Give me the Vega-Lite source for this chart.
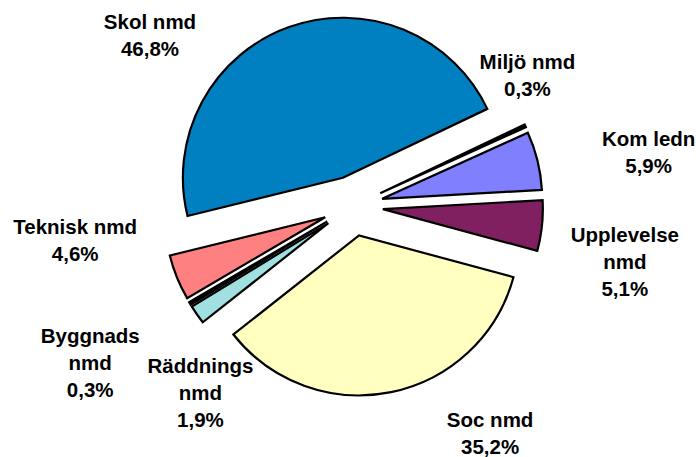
{
  "$schema": "https://vega.github.io/schema/vega-lite/v6.json",
  "width": 686,
  "height": 412,
  "padding": {"left": 10, "top": 0, "right": 0, "bottom": 45},
  "autosize": {"type": "none"},
  "background": "white",
  "data": {
    "values": [
      {"nr": 1, "name": "Miljö nmd", "pct": 0.3, "label": "Miljö nmd\n0,3%"},
      {"nr": 2, "name": "Kom ledn", "pct": 5.9, "label": "Kom ledn\n5,9%"},
      {"nr": 3, "name": "Upplevelse nmd", "pct": 5.1, "label": "Upplevelse\nnmd\n5,1%"},
      {"nr": 4, "name": "Soc nmd", "pct": 35.2, "label": "Soc nmd\n35,2%"},
      {"nr": 5, "name": "Räddnings nmd", "pct": 1.9, "label": "Räddnings\nnmd\n1,9%"},
      {"nr": 6, "name": "Byggnads nmd", "pct": 0.3, "label": "Byggnads\nnmd\n0,3%"},
      {"nr": 7, "name": "Teknisk nmd", "pct": 4.6, "label": "Teknisk nmd\n4,6%"},
      {"nr": 8, "name": "Skol nmd", "pct": 46.8, "label": "Skol nmd\n46,8%"}
    ]
  },
  "encoding": {
    "theta": {"field": "pct", "type": "quantitative", "stack": true, "scale": {"range": [1.1257, 7.4089]}},
    "order": {"field": "nr", "type": "quantitative"}
  },
  "layer": [
    {
      "mark": {
        "type": "arc",
        "radius": 160,
        "stroke": "black",
        "strokeWidth": 2.2,
        "strokeJoin": "miter",
        "x": {"expr": "width/2 + 30*sin((scale('theta', datum.pct_start) + scale('theta', datum.pct_end))/2)"},
        "y": {"expr": "height/2 - 30*cos((scale('theta', datum.pct_start) + scale('theta', datum.pct_end))/2)"}
      },
      "encoding": {
        "color": {
          "field": "name",
          "type": "nominal",
          "scale": {
            "domain": ["Miljö nmd", "Kom ledn", "Upplevelse nmd", "Soc nmd", "Räddnings nmd", "Byggnads nmd", "Teknisk nmd", "Skol nmd"],
            "range": ["#000000", "#8080FF", "#802060", "#FFFFC0", "#A0E0E0", "#000000", "#FF8080", "#0080C0"]
          },
          "legend": null
        }
      }
    },
    {
      "mark": {
        "type": "text",
        "radius": 220,
        "font": "Liberation Sans",
        "fontWeight": "bold",
        "fontSize": 20.5,
        "lineHeight": 27,
        "lineBreak": "\n",
        "color": "black",
        "dx": {"expr": "[-25, 82, 53, 93, 28, -74, -74, -129][datum.nr - 1]"},
        "dy": {"expr": "[-50, -13, 7, -1, 35, 18, -61, 24][datum.nr - 1]"}
      },
      "encoding": {
        "text": {"field": "label", "type": "nominal"}
      }
    }
  ]
}
